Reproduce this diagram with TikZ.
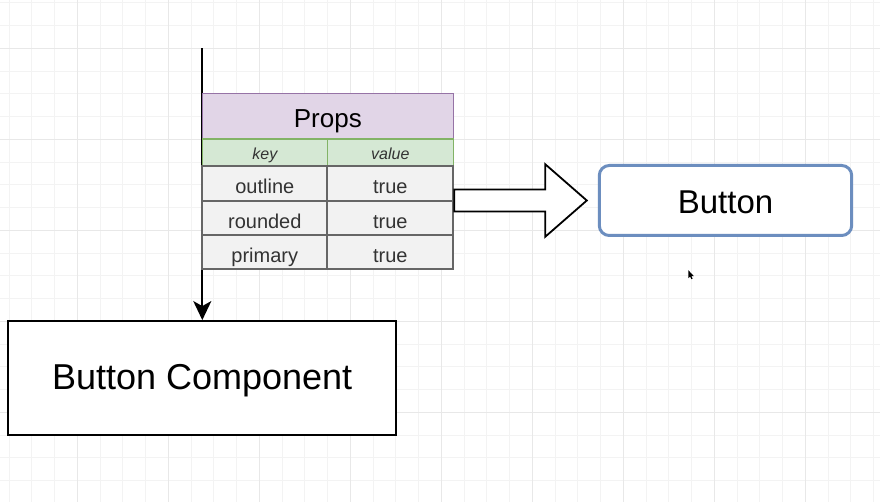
\documentclass[tikz,border=0pt]{standalone}
\usepackage{fontspec}
\setmainfont{Liberation Sans}
\usetikzlibrary{arrows.meta,calc}
\definecolor{gridminor}{HTML}{F3F3F3}
\definecolor{gridmajor}{HTML}{E8E8E8}
\definecolor{purplefill}{HTML}{E1D5E7}
\definecolor{purpleline}{HTML}{9673A6}
\definecolor{greenfill}{HTML}{D5E8D4}
\definecolor{greenline}{HTML}{82B366}
\definecolor{grayfill}{HTML}{F2F2F2}
\definecolor{grayline}{HTML}{666666}
\definecolor{blueline}{HTML}{6C8EBF}
\definecolor{celltext}{HTML}{333333}
\begin{document}
\begin{tikzpicture}[x=1pt,y=-1pt,
  minorline/.style={draw=gridminor,line width=0.8pt},
  majorline/.style={draw=gridmajor,line width=1pt},
  header/.style={draw=purpleline,fill=purplefill,line width=1.6pt,inner sep=0pt,
    minimum width=251pt,minimum height=45.7pt,font=\fontsize{26}{30}\selectfont,
    text height=21.9pt,text depth=0pt},
  keycell/.style={draw=greenline,fill=greenfill,line width=1.6pt,inner sep=0pt,
    minimum height=27pt,text=celltext,font=\fontsize{16}{19}\selectfont\itshape,
    text height=14.1pt,text depth=0pt},
  cell/.style={draw=grayline,fill=grayfill,line width=2pt,inner sep=0pt,
    text=celltext,font=\fontsize{20}{24}\selectfont,
    text height=20.4pt,text depth=0pt},
  leftcol/.style={minimum width=125pt},
  rightcol/.style={minimum width=126pt},
  blockarrow/.style={draw=black,fill=white,line width=1.8pt,line join=miter},
  buttonbox/.style={draw=blueline,fill=white,line width=3pt,rounded corners=10pt,
    minimum width=252.4pt,minimum height=70pt,font=\fontsize{33}{38}\selectfont,
    inner sep=0pt,text height=26.8pt,text depth=0pt},
  compbox/.style={draw=black,fill=white,line width=1.8pt,
    minimum width=387.7pt,minimum height=114pt,font=\fontsize{36}{42}\selectfont,
    inner sep=0pt,text height=23.3pt,text depth=0pt},
  flow/.style={draw=black,line width=2pt,-{Stealth[length=19pt,width=18pt,inset=5pt]}}
]
\useasboundingbox (0,0) rectangle (880,502);
\fill[white] (0,0) rectangle (880,502);
% grid
\foreach \i in {0,...,38} {
  \draw[minorline] ({9.05+22.75*\i},0) -- ++(0,502);
}
\foreach \i in {0,...,22} {
  \draw[minorline] (0,{2.8+22.75*\i}) -- ++(880,0);
}
\foreach \i in {0,...,9} {
  \draw[majorline] ({77.3+91*\i},0) -- ++(0,502);
}
\foreach \i in {0,...,5} {
  \draw[majorline] (0,{48.3+91*\i}) -- ++(880,0);
}
% Button Component
\node[compbox] (comp) at (202.15,378) {Button Component};
% flow line
\coordinate (start) at (202.3,48.3);
\draw[flow] (start) -- (start |- comp.north);
% table
\node[header] (props) at (327.8,116.2) {Props};
\node[keycell,leftcol] (k0) at (264.8,152.5) {key};
\node[keycell,rightcol] (v0) at (390.3,152.5) {value};
\node[cell,leftcol,minimum height=35pt] (k1) at (264.8,183.5) {outline};
\node[cell,rightcol,minimum height=35pt] (v1) at (390.3,183.5) {true};
\node[cell,leftcol,minimum height=34pt] (k2) at (264.8,218) {rounded};
\node[cell,rightcol,minimum height=34pt] (v2) at (390.3,218) {true};
\node[cell,leftcol,minimum height=34.3pt] (k3) at (264.8,252.2) {primary};
\node[cell,rightcol,minimum height=34.3pt] (v3) at (390.3,252.2) {true};
% Button
\node[buttonbox] (btn) at (725.5,200.5) {Button};
% block arrow
\coordinate (a0) at (v1.east |- btn.west);
\coordinate (tip) at ($(btn.west)+(-11,0)$);
\draw[blockarrow] ($(a0)+(0,-11)$) -- ($(tip)+(-41.6,-11)$) -- ($(tip)+(-41.6,-36.3)$)
  -- (tip) -- ($(tip)+(-41.6,36.3)$) -- ($(tip)+(-41.6,11)$) -- ($(a0)+(0,11)$) -- cycle;
% cursor
\fill[black] (688.3,270.2) -- ++(0,8) -- ++(1.8,-1.6) -- ++(1.3,2.6) -- ++(1.2,-0.6)
  -- ++(-1.2,-2.5) -- ++(2.4,0) -- cycle;
\end{tikzpicture}
\end{document}
